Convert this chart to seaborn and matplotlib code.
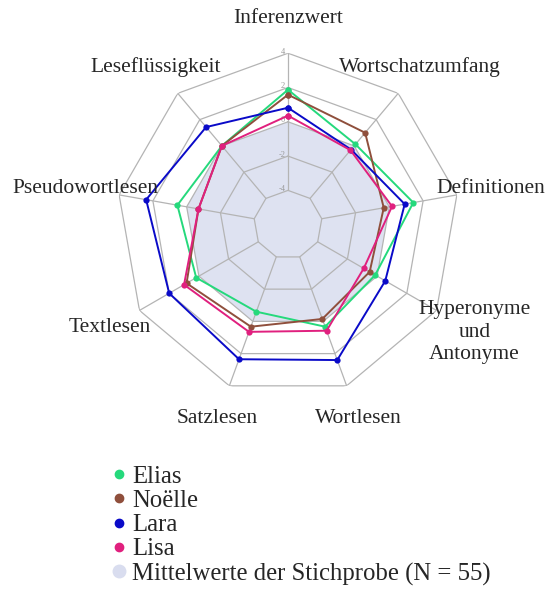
import numpy as np
import pandas as pd
import matplotlib
matplotlib.use('Agg')
import matplotlib.pyplot as plt
import seaborn as sns
from matplotlib.lines import Line2D

# Daten (z-Werte)
achsen = ['Inferenzwert', 'Wortschatzumfang', 'Definitionen',
          'Hyperonyme\nund\nAntonyme', 'Wortlesen', 'Satzlesen',
          'Textlesen', 'Pseudowortlesen', 'Leseflüssigkeit']
elias = [1.87, 0.12, 1.42, -0.13, 0.33, -0.60, 0.18, 0.55, 0.00]
noelle = [1.58, 1.00, -0.33, -0.50, -0.15, 0.33, 0.83, -0.70, 0.00]
lara = [0.82, -0.28, 0.91, 0.55, 2.40, 2.35, 2.00, 2.40, 1.43]
lisa = [0.36, -0.33, 0.16, -0.90, 0.58, 0.65, 1.00, -0.70, 0.00]
mittel = [0.0, 0.0, 0.0, 0.0, 0.0, 0.0, 0.0, 0.0, 0.0]
ringe = [-4, -2, 0, 2, 4]
ring_labels = ['-4', '-2', '0', '2', '4']

namen = ['Elias', 'Noëlle', 'Lara', 'Lisa']
farben = ['#25d97c', '#8f4f3c', '#0a0ac8', '#e0207e']
mittel_farbe = '#d9ddef'

sns.set_theme(style='white')
plt.rcParams['font.family'] = ['Liberation Serif', 'DejaVu Serif']

n = len(achsen)
theta = np.arange(n) * 2 * np.pi / n
theta_c = np.append(theta, 2 * np.pi)

# long-format Tabelle für seaborn
rows = []
for name, werte in zip(namen, [elias, noelle, lara, lisa]):
    for t, v in zip(theta_c, werte + werte[:1]):
        rows.append({'theta': t, 'wert': v, 'kind': name})
df = pd.DataFrame(rows)

fig = plt.figure(figsize=(5.47, 6.04), dpi=100)
ax = fig.add_axes([0.213, 0.344, 0.627, 0.568], projection='polar')
ax.set_theta_zero_location('N')
ax.set_theta_direction(-1)
ax.set_ylim(-6, 4)
ax.grid(False)
ax.spines['polar'].set_visible(False)
ax.set_xticks([])
ax.set_yticks([])
ax.set_facecolor('none')

# Mittelwerte als Fläche
ax.fill(theta_c, mittel + mittel[:1], color=mittel_farbe, alpha=0.85,
        lw=0, zorder=1)

# polygonales Gitter
for r in ringe:
    ax.plot(theta_c, [r] * (n + 1), color='#b4b4b4', lw=0.9, zorder=2)
for t in theta:
    ax.plot([t, t], [ringe[0], ringe[-1]], color='#b4b4b4', lw=0.9, zorder=2)
for r, lab in zip(ringe, ring_labels):
    ax.annotate(lab, xy=(0, r), xytext=(-2, 1), textcoords='offset points',
                ha='right', va='center', fontsize=6, color='#999999',
                zorder=2)

sns.lineplot(data=df, x='theta', y='wert', hue='kind', palette=farben,
             sort=False, estimator=None, marker='o', markersize=4.5,
             markeredgewidth=0, linewidth=1.4, ax=ax, legend=False,
             zorder=3)
ax.set_xlabel('')
ax.set_ylabel('')
ax.set_xticks([])
ax.set_yticks([])

# Achsenbeschriftungen
for t, lab in zip(theta, achsen):
    r = 6.55 if '\n' in lab else 6.0
    ax.text(t, r, lab, ha='center', va='center', fontsize=15.5,
            linespacing=1.25, clip_on=False)

# Legende
handles = [Line2D([], [], ls='', marker='o', ms=6, color=c) for c in farben]
handles.append(Line2D([], [], ls='', marker='o', ms=9, color=mittel_farbe))
fig.legend(handles, namen + ['Mittelwerte der Stichprobe (N = 55)'],
           loc='upper left', bbox_to_anchor=(0.182, 0.246), frameon=False,
           fontsize=17.8, handletextpad=0.12, labelspacing=0.08,
           handlelength=0.8, borderaxespad=0)

fig.savefig('out.png', dpi=100)
